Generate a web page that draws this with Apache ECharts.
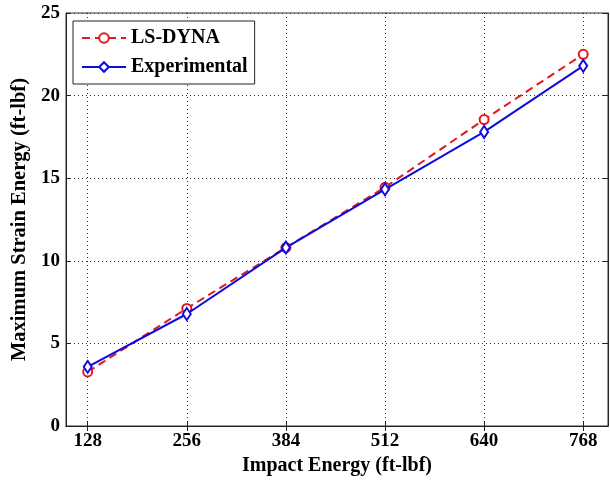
<!DOCTYPE html>
<html><head><meta charset="utf-8">
<script src="https://cdn.jsdelivr.net/npm/echarts@6/dist/echarts.min.js"></script>
<style>html,body{margin:0;padding:0;background:#fff}#c{width:610px;height:484px}</style>
</head><body><div id="c"></div>
<script>
const impactEnergy = [128, 256, 384, 512, 640, 768];
const lsDyna = [3.27, 7.12, 10.8, 14.45, 18.55, 22.5];
const experimental = [3.58, 6.78, 10.8, 14.33, 17.8, 21.8];
const yTicks = [0, 5, 10, 15, 20, 25];

const chart = echarts.init(document.getElementById('c'), null, {renderer: 'canvas'});
const font = '"Liberation Serif", "Times New Roman", serif';
const gridLine = {show: true, lineStyle: {color: '#333', type: [1, 3], width: 1}};
chart.setOption({
  animation: false,
  backgroundColor: '#fff',
  textStyle: {fontFamily: font},
  grid: {left: 66, right: 2, top: 13, bottom: 58, show: true, borderColor: '#333', borderWidth: 1},
  legend: {
    left: 73, top: 21, orient: 'vertical',
    backgroundColor: '#fff', borderColor: '#222', borderWidth: 1,
    padding: [7, 7, 7, 8], itemGap: 9, itemWidth: 44, itemHeight: 12,
    textStyle: {fontFamily: font, fontWeight: 'bold', fontSize: 20, color: '#000'},
    data: ['LS-DYNA', 'Experimental']
  },
  xAxis: [{
    type: 'value', min: 100, max: 800,
    name: 'Impact Energy (ft-lbf)', nameLocation: 'middle', nameGap: 30,
    nameTextStyle: {fontFamily: font, fontWeight: 'bold', fontSize: 20, color: '#000'},
    axisLine: {show: true, lineStyle: {color: '#222'}},
    axisTick: {show: true, inside: true, length: 5, customValues: impactEnergy, lineStyle: {color: '#222'}},
    axisLabel: {customValues: impactEnergy, fontFamily: font, fontWeight: 'bold', fontSize: 19, color: '#000', margin: 6},
    splitLine: gridLine
  }, {
    type: 'value', min: 100, max: 800, position: 'top',
    axisLine: {show: true, lineStyle: {color: '#222'}},
    axisTick: {show: true, inside: true, length: 5, customValues: impactEnergy, lineStyle: {color: '#222'}},
    axisLabel: {show: false}, splitLine: {show: false}
  }],
  yAxis: [{
    type: 'value', min: 0, max: 25, interval: 5,
    name: 'Maximum Strain Energy (ft-lbf)', nameLocation: 'middle', nameGap: 35,
    nameTextStyle: {fontFamily: font, fontWeight: 'bold', fontSize: 20.5, color: '#000'},
    axisLine: {show: true, lineStyle: {color: '#222'}},
    axisTick: {show: true, inside: true, length: 5, lineStyle: {color: '#222'}},
    axisLabel: {fontFamily: font, fontWeight: 'bold', fontSize: 19, color: '#000', margin: 6,
      formatter: v => yTicks.includes(v) ? String(v) : ''},
    splitLine: gridLine
  }, {
    type: 'value', min: 0, max: 25, interval: 5, position: 'right',
    axisLine: {show: true, lineStyle: {color: '#222'}},
    axisTick: {show: true, inside: true, length: 5, lineStyle: {color: '#222'}},
    axisLabel: {show: false}, splitLine: {show: false}
  }],
  series: [{
    name: 'LS-DYNA', type: 'line',
    data: impactEnergy.map((x, i) => [x, lsDyna[i]]),
    symbol: 'emptyCircle', symbolSize: 9, z: 2,
    lineStyle: {color: '#e0191c', width: 2, type: [8, 5]},
    itemStyle: {color: '#e0191c', borderColor: '#e0191c', borderWidth: 1.5}
  }, {
    name: 'Experimental', type: 'line',
    data: impactEnergy.map((x, i) => [x, experimental[i]]),
    symbol: 'diamond', symbolSize: [8, 12], z: 3,
    lineStyle: {color: '#0c0ce0', width: 2},
    itemStyle: {color: '#fff', borderColor: '#0c0ce0', borderWidth: 2}
  }]
});
</script></body></html>
